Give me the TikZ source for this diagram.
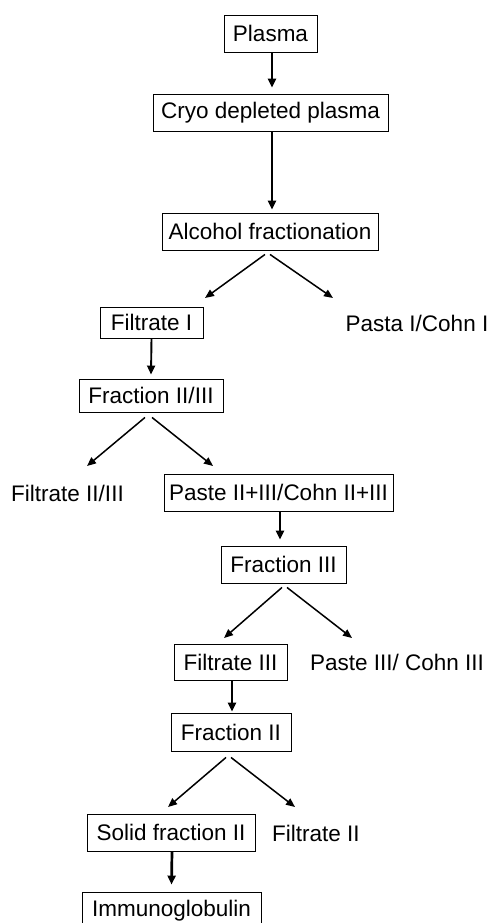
\documentclass[tikz,border=0pt]{standalone}
\usepackage{fontspec}
\setmainfont{Liberation Sans}
\usetikzlibrary{arrows.meta}
\newcommand\diagfont{\fontsize{22.5}{27}\selectfont}
\begin{document}
\begin{tikzpicture}[x=1pt,y=-1pt,
  box/.style={draw=black, line width=0.9pt, inner sep=0pt, font=\diagfont, anchor=center},
  lbl/.style={inner sep=0pt, font=\diagfont, anchor=center},
  varr/.style={line width=2.7pt, -{Triangle[length=9pt,width=8pt]}},
  darr/.style={line width=1.5pt, -{Triangle[length=9pt,width=7.5pt]}}]
\useasboundingbox (0,0) rectangle (489,923);
\clip (0,0) rectangle (489,923);
\fill[white] (0,0) rectangle (489,923);

% nodes
\node[box, minimum width=93pt, minimum height=37pt] (plasma) at (270.5,33.5) {Plasma};
\node[box, minimum width=235pt, minimum height=37pt] (cryo) at (270.5,112.5) {Cryo depleted plasma};
\node[box, minimum width=216pt, minimum height=37pt] (alcohol) at (270,231.5) {Alcohol fractionation};
\node[box, minimum width=103pt, minimum height=31pt] (filtI) at (151.5,322.5) {Filtrate I};
\node[lbl] (pastaI) at (417,323) {Pasta I/Cohn I};
\node[box, minimum width=144pt, minimum height=33pt] (frac23) at (151,395.5) {Fraction II/III};
\node[lbl] (filt23) at (67.5,493) {Filtrate II/III};
\node[box, minimum width=229pt, minimum height=37pt] (paste23) at (278.5,492.5) {Paste II+III/Cohn II+III};
\node[box, minimum width=125pt, minimum height=37pt] (frac3) at (283.5,564.5) {Fraction III};
\node[box, minimum width=113pt, minimum height=36pt] (filt3) at (230.5,662) {Filtrate III};
\node[lbl] (paste3) at (397,662) {Paste III/ Cohn III};
\node[box, minimum width=120pt, minimum height=38pt] (frac2) at (231,732) {Fraction II};
\node[box, minimum width=168pt, minimum height=37pt] (solid) at (171,832.5) {Solid fraction II};
\node[lbl] (filt2) at (316,833) {Filtrate II};
\node[box, minimum width=179pt, minimum height=37pt] (immuno) at (171.5,910.5) {Immunoglobulin};

% arrow tips
\coordinate (t1) at (205,298);
\coordinate (t2) at (333,298);
\coordinate (t3) at (87,466);
\coordinate (t4) at (213,466);
\coordinate (t5) at (224,638);
\coordinate (t6) at (352,638);
\coordinate (t7) at (168,807);
\coordinate (t8) at (295,807);

% vertical arrows
\draw[varr] ([xshift=1.5pt]plasma.south) -- ([xshift=1.5pt,yshift=6pt]cryo.north);
\draw[varr] ([xshift=1.5pt]cryo.south) -- ([xshift=2pt,yshift=3pt]alcohol.north);
\draw[varr,line width=1.9pt] (filtI.south) -- ([yshift=4pt]frac23.north);
\draw[varr] ([xshift=1.5pt]paste23.south) -- ([xshift=-3.5pt,yshift=6pt]frac3.north);
\draw[varr] ([xshift=1.5pt]filt3.south) -- ([xshift=1pt,yshift=1pt]frac2.north);
\draw[varr] ([xshift=1pt]solid.south) -- ([yshift=7pt]immuno.north);

% diagonal arrows
\draw[darr] ([xshift=-5pt,yshift=-4pt]alcohol.south) -- (t1);
\draw[darr] ([yshift=-4pt]alcohol.south) -- (t2);
\draw[darr] ([xshift=-6pt,yshift=-5pt]frac23.south) -- (t3);
\draw[darr] ([xshift=1pt,yshift=-5pt]frac23.south) -- (t4);
\draw[darr] ([xshift=-1.5pt,yshift=-4pt]frac3.south) -- (t5);
\draw[darr] ([xshift=3.5pt,yshift=-4pt]frac3.south) -- (t6);
\draw[darr] ([xshift=-5pt,yshift=-6pt]frac2.south) -- (t7);
\draw[darr] ([yshift=-6pt]frac2.south) -- (t8);
\end{tikzpicture}
\end{document}
